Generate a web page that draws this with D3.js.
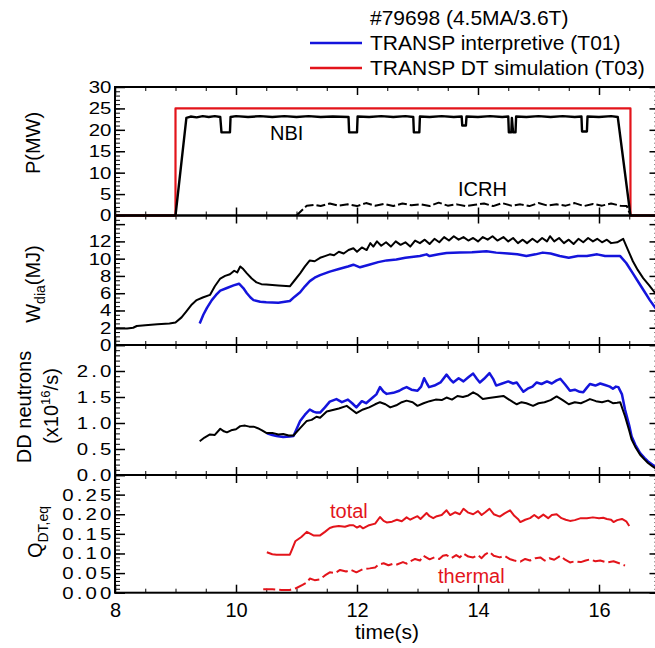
<!DOCTYPE html>
<html>
<head>
<meta charset="utf-8">
<script src="https://cdn.jsdelivr.net/npm/d3@7"></script>
<style>
  body { margin: 0; background: #fff; }
  svg text { font-family: "Liberation Sans", Arial, sans-serif; fill: #000; }
</style>
</head>
<body>
<div id="chart"></div>
<script>
// ---- data: [time (s), value] ----
const nbiPower = [[8,0],[9.0,0],[9.18,22.8],[9.25,23.1],[9.35,22.9],[9.45,23.2],[9.55,23.0],[9.65,23.2],[9.74,23.0],[9.76,19.4],[9.9,19.4],[9.91,23.0],[10.0,23.2],[10.2,23.0],[10.4,23.2],[10.6,23.0],[10.8,23.2],[11.0,23.0],[11.2,23.2],[11.4,23.0],[11.6,23.1],[11.86,23.0],[11.87,19.4],[12.0,19.4],[12.01,23.1],[12.2,23.0],[12.4,23.2],[12.6,23.0],[12.8,23.2],[12.93,23.0],[12.94,19.4],[13.03,19.4],[13.04,23.1],[13.2,23.0],[13.4,23.2],[13.6,23.0],[13.73,23.1],[13.74,21.0],[13.8,21.0],[13.81,23.1],[14.0,23.0],[14.2,23.2],[14.4,23.0],[14.5,23.1],[14.51,19.4],[14.55,19.4],[14.56,22.8],[14.58,19.4],[14.62,19.4],[14.63,23.1],[14.8,23.0],[15.0,23.2],[15.2,23.0],[15.4,23.2],[15.6,23.0],[15.71,23.1],[15.72,19.6],[15.8,19.6],[15.81,23.1],[16.0,23.0],[16.2,23.2],[16.31,23.0],[16.52,0],[17,0]];
const icrhPower = [[11.0,0],[11.17,2.3],[11.3,2.5],[11.4,2.2],[11.55,2.8],[11.7,2.3],[11.85,2.6],[12.0,2.2],[12.15,2.9],[12.3,2.3],[12.45,2.7],[12.6,2.2],[12.75,2.8],[12.9,2.4],[13.05,2.6],[13.2,2.2],[13.35,3.0],[13.5,2.3],[13.65,2.6],[13.8,2.2],[13.95,2.5],[14.1,2.8],[14.25,2.2],[14.4,2.9],[14.55,2.3],[14.7,2.6],[14.85,2.2],[15.0,2.9],[15.15,2.3],[15.3,2.6],[15.45,2.3],[15.6,2.9],[15.75,2.2],[15.9,2.7],[16.05,2.3],[16.2,2.8],[16.35,2.3],[16.46,2.2],[16.52,0]];
const nbiT03 = [[8,0],[9.0,0],[9.0,25],[16.52,25],[16.52,0],[17,0]];

const wdiaMeasured = [[8.0,1.9],[8.2,1.9],[8.3,2.0],[8.36,2.2],[8.5,2.3],[8.7,2.4],[8.9,2.5],[9.0,2.6],[9.1,3.2],[9.18,3.9],[9.27,4.7],[9.35,5.2],[9.45,5.5],[9.57,5.8],[9.65,6.8],[9.74,7.7],[9.82,8.0],[9.9,8.2],[9.97,8.6],[10.02,8.4],[10.07,9.1],[10.12,8.8],[10.18,8.3],[10.26,7.7],[10.34,7.25],[10.42,7.05],[10.5,7.0],[10.7,6.9],[10.89,6.8],[10.97,7.5],[11.06,8.3],[11.14,9.1],[11.22,9.8],[11.3,9.7],[11.39,10.1],[11.47,10.3],[11.55,10.5],[11.62,10.4],[11.7,10.8],[11.78,10.6],[11.86,11.0],[11.94,11.2],[12.0,10.8],[12.08,11.3],[12.16,11.0],[12.22,11.8],[12.27,11.4],[12.33,12.0],[12.4,11.5],[12.48,11.9],[12.56,11.4],[12.64,12.0],[12.72,11.6],[12.8,11.9],[12.88,11.4],[12.96,12.1],[13.04,11.8],[13.12,12.2],[13.2,11.7],[13.28,12.3],[13.36,11.9],[13.44,12.5],[13.52,12.1],[13.6,12.6],[13.68,12.2],[13.76,12.5],[13.84,12.1],[13.92,12.4],[14.0,12.0],[14.08,12.5],[14.16,12.2],[14.24,12.6],[14.32,12.1],[14.42,12.5],[14.5,12.0],[14.58,12.4],[14.66,11.8],[14.74,12.2],[14.81,11.8],[14.9,12.3],[14.98,11.9],[15.06,12.4],[15.14,12.0],[15.19,12.6],[15.26,12.0],[15.34,12.4],[15.42,11.8],[15.5,12.2],[15.58,11.7],[15.66,12.3],[15.74,11.9],[15.82,12.4],[15.9,12.0],[15.97,12.3],[16.05,11.9],[16.13,12.2],[16.2,11.8],[16.3,11.9],[16.4,12.3],[16.48,11.0],[16.56,9.7],[16.64,8.7],[16.73,7.75],[16.83,6.9],[16.93,6.0],[17.0,5.5]];
const wdiaT01 = [[9.40,2.5],[9.46,3.5],[9.52,4.3],[9.6,5.2],[9.67,5.8],[9.74,6.3],[9.85,6.6],[9.96,6.9],[10.05,7.1],[10.12,6.6],[10.18,6.0],[10.24,5.5],[10.29,5.2],[10.4,5.0],[10.5,4.95],[10.7,4.9],[10.89,5.1],[10.97,5.6],[11.06,6.1],[11.14,6.8],[11.22,7.4],[11.3,7.8],[11.39,8.1],[11.55,8.5],[11.7,8.8],[11.85,9.1],[11.94,9.3],[12.05,9.0],[12.2,9.3],[12.35,9.6],[12.49,9.8],[12.65,9.9],[12.8,10.1],[13.04,10.3],[13.15,10.5],[13.2,10.3],[13.35,10.5],[13.48,10.65],[13.7,10.7],[13.9,10.75],[14.14,10.85],[14.3,10.7],[14.5,10.6],[14.65,10.5],[14.8,10.3],[14.95,10.5],[15.07,10.7],[15.2,10.6],[15.35,10.3],[15.5,10.1],[15.65,10.3],[15.8,10.3],[15.97,10.5],[16.1,10.3],[16.35,10.3],[16.45,9.5],[16.56,8.3],[16.65,7.3],[16.75,6.2],[16.84,5.2],[16.93,4.3],[17.0,3.8]];

const ddMeasured = [[9.40,0.65],[9.48,0.72],[9.57,0.78],[9.65,0.77],[9.74,0.89],[9.8,0.84],[9.85,0.82],[9.92,0.86],[10.0,0.88],[10.07,0.94],[10.15,0.95],[10.22,0.93],[10.29,0.93],[10.36,0.9],[10.43,0.86],[10.5,0.81],[10.6,0.81],[10.7,0.78],[10.78,0.79],[10.87,0.76],[10.95,0.76],[11.06,0.9],[11.17,1.04],[11.25,1.06],[11.33,1.12],[11.39,1.1],[11.5,1.22],[11.6,1.25],[11.7,1.28],[11.83,1.33],[11.92,1.25],[11.99,1.19],[12.1,1.26],[12.2,1.3],[12.3,1.36],[12.38,1.4],[12.47,1.36],[12.55,1.30],[12.65,1.34],[12.74,1.40],[12.82,1.43],[12.92,1.40],[13.0,1.33],[13.1,1.38],[13.2,1.42],[13.3,1.45],[13.4,1.44],[13.48,1.49],[13.57,1.45],[13.66,1.52],[13.75,1.50],[13.84,1.53],[13.92,1.59],[14.0,1.54],[14.08,1.46],[14.18,1.48],[14.3,1.50],[14.42,1.52],[14.5,1.46],[14.58,1.40],[14.64,1.36],[14.72,1.40],[14.8,1.38],[14.91,1.33],[15.0,1.38],[15.1,1.40],[15.2,1.44],[15.3,1.51],[15.4,1.44],[15.5,1.36],[15.6,1.40],[15.7,1.38],[15.78,1.42],[15.85,1.46],[15.95,1.42],[16.05,1.40],[16.15,1.43],[16.23,1.38],[16.3,1.39],[16.35,1.40],[16.43,1.13],[16.5,0.85],[16.54,0.68],[16.6,0.54],[16.68,0.39],[16.75,0.3],[16.81,0.23],[16.88,0.17],[16.93,0.13],[17.0,0.1]];
const ddT01 = [[10.51,0.80],[10.6,0.77],[10.67,0.75],[10.78,0.73],[10.89,0.74],[10.95,0.75],[11.0,0.88],[11.06,1.04],[11.14,1.16],[11.22,1.26],[11.28,1.22],[11.33,1.20],[11.39,1.2],[11.47,1.30],[11.55,1.41],[11.66,1.46],[11.75,1.40],[11.85,1.45],[11.92,1.38],[11.99,1.30],[12.08,1.42],[12.15,1.38],[12.25,1.48],[12.32,1.55],[12.38,1.69],[12.44,1.6],[12.49,1.56],[12.6,1.58],[12.7,1.62],[12.76,1.66],[12.82,1.69],[12.9,1.64],[13.0,1.62],[13.06,1.70],[13.11,1.86],[13.16,1.75],[13.19,1.69],[13.28,1.72],[13.38,1.78],[13.48,1.93],[13.54,1.84],[13.59,1.78],[13.68,1.86],[13.76,1.80],[13.84,1.88],[13.92,1.95],[13.98,1.85],[14.03,1.78],[14.1,1.85],[14.19,1.96],[14.25,1.85],[14.3,1.72],[14.4,1.76],[14.5,1.80],[14.58,1.76],[14.64,1.78],[14.7,1.68],[14.75,1.60],[14.82,1.66],[14.9,1.70],[14.97,1.78],[15.05,1.75],[15.14,1.80],[15.22,1.76],[15.3,1.82],[15.36,1.85],[15.44,1.74],[15.52,1.62],[15.6,1.64],[15.68,1.60],[15.74,1.59],[15.8,1.68],[15.85,1.75],[15.94,1.72],[16.02,1.76],[16.1,1.73],[16.18,1.70],[16.23,1.66],[16.28,1.70],[16.32,1.69],[16.38,1.55],[16.43,1.26],[16.5,0.95],[16.54,0.74],[16.6,0.58],[16.68,0.42],[16.75,0.33],[16.81,0.26],[16.88,0.20],[16.93,0.16],[17.0,0.12]];

const qTotal = [[10.51,0.103],[10.6,0.098],[10.67,0.097],[10.78,0.097],[10.89,0.097],[10.93,0.112],[10.98,0.131],[11.08,0.142],[11.17,0.155],[11.28,0.146],[11.39,0.146],[11.47,0.155],[11.55,0.165],[11.61,0.168],[11.7,0.170],[11.8,0.168],[11.88,0.172],[11.94,0.172],[12.0,0.166],[12.05,0.170],[12.1,0.164],[12.2,0.172],[12.3,0.176],[12.38,0.193],[12.44,0.183],[12.49,0.179],[12.58,0.181],[12.66,0.186],[12.74,0.182],[12.82,0.192],[12.88,0.186],[12.93,0.19],[13.0,0.195],[13.05,0.188],[13.15,0.203],[13.2,0.195],[13.26,0.19],[13.32,0.195],[13.4,0.198],[13.48,0.21],[13.54,0.198],[13.62,0.205],[13.7,0.2],[13.76,0.214],[13.84,0.204],[13.92,0.2],[14.0,0.208],[14.06,0.198],[14.12,0.205],[14.19,0.214],[14.26,0.2],[14.36,0.194],[14.44,0.202],[14.53,0.21],[14.6,0.196],[14.66,0.188],[14.7,0.18],[14.78,0.186],[14.86,0.19],[14.93,0.198],[15.0,0.19],[15.08,0.199],[15.16,0.19],[15.22,0.198],[15.3,0.2],[15.38,0.19],[15.45,0.186],[15.52,0.183],[15.6,0.185],[15.7,0.19],[15.8,0.19],[15.9,0.192],[16.0,0.19],[16.07,0.191],[16.13,0.188],[16.2,0.186],[16.24,0.18],[16.3,0.185],[16.38,0.188],[16.45,0.182],[16.5,0.17]];
const qThermal = [[10.45,0.009],[10.6,0.009],[10.75,0.007],[10.89,0.007],[11.0,0.012],[11.1,0.02],[11.17,0.026],[11.22,0.036],[11.3,0.032],[11.39,0.034],[11.47,0.044],[11.55,0.052],[11.64,0.05],[11.72,0.058],[11.82,0.054],[11.9,0.058],[11.99,0.052],[12.1,0.06],[12.21,0.062],[12.3,0.064],[12.36,0.072],[12.44,0.075],[12.52,0.07],[12.6,0.074],[12.66,0.072],[12.76,0.078],[12.82,0.074],[12.88,0.08],[12.96,0.086],[13.04,0.082],[13.1,0.094],[13.2,0.085],[13.28,0.09],[13.36,0.086],[13.42,0.094],[13.48,0.096],[13.56,0.088],[13.64,0.096],[13.7,0.09],[13.76,0.1],[13.84,0.092],[13.92,0.09],[14.0,0.096],[14.06,0.088],[14.12,0.098],[14.19,0.104],[14.26,0.094],[14.36,0.09],[14.44,0.094],[14.52,0.086],[14.6,0.082],[14.7,0.079],[14.78,0.086],[14.86,0.082],[14.95,0.088],[15.03,0.09],[15.1,0.082],[15.18,0.088],[15.26,0.084],[15.36,0.094],[15.44,0.084],[15.52,0.077],[15.6,0.08],[15.7,0.078],[15.78,0.082],[15.85,0.085],[15.94,0.08],[16.02,0.082],[16.13,0.077],[16.24,0.08],[16.35,0.074],[16.43,0.069]];

// ---- axis ticks and labels ----
const timeMajor = [8, 10, 12, 14, 16];
const timeMinor = [8.5, 9, 9.5, 10.5, 11, 11.5, 12.5, 13, 13.5, 14.5, 15, 15.5, 16.5, 17];
const pTicks = [0, 5, 10, 15, 20, 25, 30];
const pLabels = ["0", "5", "10", "15", "20", "25", "30"];
const wTicks = [0, 2, 4, 6, 8, 10, 12, 14];
const wLabels = ["0", "2", "4", "6", "8", "10", "12", ""];
const ddTicks = [0, 0.5, 1.0, 1.5, 2.0, 2.5];
const ddLabels = ["0.0", "0.5", "1.0", "1.5", "2.0", ""];
const qTicks = [0, 0.05, 0.10, 0.15, 0.20, 0.25, 0.30];
const qLabels = ["0.00", "0.05", "0.10", "0.15", "0.20", "0.25", ""];

const RED = "#e3141b", BLUE = "#1414dc";
const W = 655, H = 648;
const left = 115, right = 659.5;
const FONT = '"Liberation Sans", Arial, sans-serif';

const svg = d3.select("#chart").append("svg")
    .attr("width", W).attr("height", H);

const x = d3.scaleLinear().domain([8, 17]).range([left, right]);

// panel layout (top/bottom pixels), domain, minor step
const panels = [
    { top: 87, bottom: 215.5, domain: [0, 30], ticks: pTicks, labels: pLabels, minor: 1, spacing: 0 },
    { top: 215.5, bottom: 345, domain: [0, 15], ticks: wTicks, labels: wLabels, minor: 0.5, spacing: 0 },
    { top: 345, bottom: 475, domain: [0, 2.5], ticks: ddTicks, labels: ddLabels, minor: 0.1, spacing: 2.6 },
    { top: 475, bottom: 592.7, domain: [0, 0.3], ticks: qTicks, labels: qLabels, minor: 0.01, spacing: 2.6 }
];

panels.forEach(p => {
    p.y = d3.scaleLinear().domain(p.domain).range([p.bottom, p.top]);
    const n = Math.round((p.domain[1] - p.domain[0]) / p.minor);
    p.minorTicks = d3.range(n + 1).map(i => +(i * p.minor).toFixed(4));

    const g = svg.append("g");

    // left axis: labels + inward ticks
    const la = g.append("g").attr("transform", `translate(${left},0)`)
        .call(d3.axisLeft(p.y).tickValues(p.ticks).tickSize(-10).tickPadding(3)
            .tickFormat((d, i) => p.labels[i]));
    la.select(".domain").remove();
    la.selectAll("line").attr("stroke-width", 1.5);
    // tick labels in the reference are wide, short glyphs
    la.selectAll("text").attr("font-size", 17)
        .attr("font-family", FONT)
        .style("letter-spacing", p.spacing + "px")
        .attr("dx", p.spacing)
        .attr("transform", "scale(1.2,1)");

    const lm = g.append("g").attr("transform", `translate(${left},0)`)
        .call(d3.axisLeft(p.y).tickValues(p.minorTicks).tickSize(-5).tickFormat(""));
    lm.select(".domain").remove();

    // right axis (mirrored, mostly outside the crop)
    const ra = g.append("g").attr("transform", `translate(${right},0)`)
        .call(d3.axisRight(p.y).tickValues(p.ticks).tickSize(-10).tickFormat(""));
    ra.select(".domain").remove();
    ra.selectAll("line").attr("stroke-width", 1.5);
    const rm = g.append("g").attr("transform", `translate(${right},0)`)
        .call(d3.axisRight(p.y).tickValues(p.minorTicks).tickSize(-5).tickFormat(""));
    rm.select(".domain").remove();

    // top/bottom time ticks
    [[d3.axisTop, p.top], [d3.axisBottom, p.bottom]].forEach(([ax, yy]) => {
        const a = g.append("g").attr("transform", `translate(0,${yy})`)
            .call(ax(x).tickValues(timeMajor).tickSize(-8).tickFormat(""));
        a.select(".domain").remove();
        a.selectAll("line").attr("stroke-width", 1.5);
        const m = g.append("g").attr("transform", `translate(0,${yy})`)
            .call(ax(x).tickValues(timeMinor).tickSize(-4).tickFormat(""));
        m.select(".domain").remove();
    });

    g.append("rect")
        .attr("x", left).attr("y", p.top)
        .attr("width", right - left).attr("height", p.bottom - p.top)
        .attr("fill", "none").attr("stroke", "#000").attr("stroke-width", 2);
});

// bottom time labels
const xb = svg.append("g").attr("transform", `translate(0,${panels[3].bottom})`)
    .call(d3.axisBottom(x).tickValues(timeMajor).tickSize(0).tickPadding(10).tickFormat(d3.format("d")));
xb.select(".domain").remove();
xb.selectAll("text").attr("font-size", 20).attr("font-family", FONT);

function drawLine(panel, data, color, width, dash) {
    const line = d3.line().x(d => x(d[0])).y(d => panel.y(d[1]));
    svg.append("path").datum(data)
        .attr("d", line)
        .attr("fill", "none")
        .attr("stroke", color)
        .attr("stroke-width", width)
        .attr("stroke-linejoin", "round")
        .attr("stroke-dasharray", dash || null);
}

// panel 1
drawLine(panels[0], nbiT03, RED, 2.2);
drawLine(panels[0], nbiPower, "#000", 2.4);
drawLine(panels[0], icrhPower, "#000", 2, "9,3");
// panel 2
drawLine(panels[1], wdiaMeasured, "#000", 2);
drawLine(panels[1], wdiaT01, BLUE, 2.5);
// panel 3
drawLine(panels[2], ddT01, BLUE, 2.5);
drawLine(panels[2], ddMeasured, "#000", 2);
// panel 4
drawLine(panels[3], qTotal, RED, 2);
drawLine(panels[3], qThermal, RED, 2, "12,4");

// annotations
function label(txt, xx, yy, color, size) {
    svg.append("text").attr("x", xx).attr("y", yy)
        .attr("font-size", size || 20).style("fill", color || "#000").text(txt);
}
label("NBI", 270, 140);
label("ICRH", 458, 196);
label("total", 330, 518, RED);
label("thermal", 438, 583, RED);

// y-axis titles
function yTitle(cx, cy, build) {
    const t = svg.append("text")
        .attr("x", cx).attr("y", cy)
        .attr("text-anchor", "middle")
        .attr("font-size", 20)
        .attr("transform", `rotate(-90,${cx},${cy})`);
    build(t);
}
yTitle(40, 143, t => t.text("P(MW)"));
yTitle(40, 284, t => {
    t.append("tspan").text("W");
    t.append("tspan").attr("dy", 5).attr("font-size", 14).text("dia");
    t.append("tspan").attr("dy", -5).text("(MJ)");
});
yTitle(31, 407, t => t.text("DD neutrons"));
yTitle(58, 406, t => {
    t.append("tspan").text("(x10");
    t.append("tspan").attr("dy", -8).attr("font-size", 13).text("16");
    t.append("tspan").attr("dy", 8).text("/s)");
});
yTitle(42, 532, t => {
    t.append("tspan").text("Q");
    t.append("tspan").attr("dy", 6).attr("font-size", 14).text("DT,eq");
});

// x-axis title
svg.append("text").attr("x", 387).attr("y", 639)
    .attr("text-anchor", "middle").attr("font-size", 21).text("time(s)");

// legend
const lg = svg.append("g");
lg.append("text").attr("x", 370).attr("y", 25).attr("font-size", 21).text("#79698 (4.5MA/3.6T)");
lg.append("line").attr("x1", 310).attr("x2", 362).attr("y1", 43).attr("y2", 43)
    .attr("stroke", BLUE).attr("stroke-width", 2.5);
lg.append("text").attr("x", 370).attr("y", 50).attr("font-size", 21).text("TRANSP interpretive (T01)");
lg.append("line").attr("x1", 310).attr("x2", 362).attr("y1", 68).attr("y2", 68)
    .attr("stroke", RED).attr("stroke-width", 2.5);
lg.append("text").attr("x", 370).attr("y", 75).attr("font-size", 21).text("TRANSP DT simulation (T03)");
</script>
</body>
</html>
